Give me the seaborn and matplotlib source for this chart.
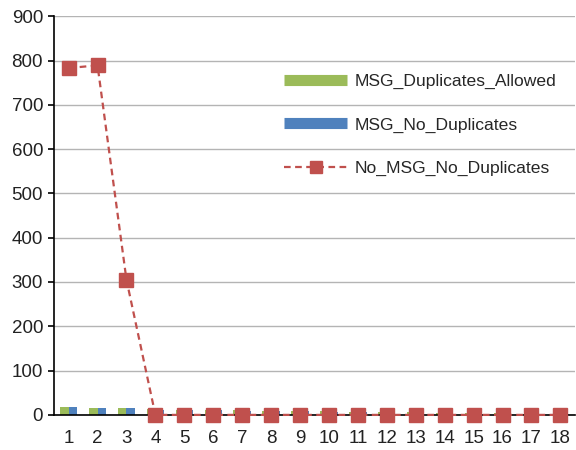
import matplotlib
matplotlib.use("Agg")
import matplotlib.pyplot as plt
from matplotlib.lines import Line2D
import seaborn as sns
import pandas as pd
import numpy as np

categories = [str(i) for i in range(1, 19)]
dup_allowed = [17, 16, 15, 13, 11, 11, 10, 9, 9, 8, 7, 7, 6, 5, 4, 4, 3, 3]
no_dup = [17, 16, 15, 12, 10, 10, 9, 8, 8, 7, 7, 6, 5, 5, 4, 3, 3, 3]
no_msg = [783, 789, 305, 0, 0, 0, 0, 0, 0, 0, 0, 0, 0, 0, 0, 0, 0, 0]
series_names = ["MSG_Duplicates_Allowed", "MSG_No_Duplicates", "No_MSG_No_Duplicates"]
y_ticks = [0, 100, 200, 300, 400, 500, 600, 700, 800, 900]

green = "#9BBB59"
blue = "#4F81BD"
red = "#C0504D"

sns.set_style("white")
plt.rcParams["font.family"] = ["Liberation Sans", "DejaVu Sans"]

bars = pd.DataFrame({
    "cat": categories * 2,
    "value": dup_allowed + no_dup,
    "series": [series_names[0]] * len(categories) + [series_names[1]] * len(categories),
})

fig = plt.figure(figsize=(5.76, 4.5), dpi=100)
ax = fig.add_axes([0.094, 0.078, 0.904, 0.886])

ax.set_ylim(0, 900)
ax.set_yticks(y_ticks)
ax.grid(axis="y", color="#b4b4b4", linewidth=1.0)
ax.set_axisbelow(True)

sns.barplot(data=bars, x="cat", y="value", hue="series", order=categories,
            palette=[green, blue], width=0.6, saturation=1, ax=ax,
            legend=False, linewidth=0)

line_df = pd.DataFrame({"cat": categories, "value": no_msg})
ax.plot(line_df.index, line_df["value"], color=red, linestyle=(0, (3, 2)),
        linewidth=1.6, marker="s", markersize=10, markerfacecolor=red,
        markeredgecolor=red, zorder=4, clip_on=False)

ax.set_xlim(-0.5, len(categories) - 0.5)
ax.set_xlabel("")
ax.set_ylabel("")
ax.tick_params(axis="x", which="major", length=0, labelsize=13.5, pad=11, labelcolor="#222222")
ax.set_xticks(np.arange(-0.5, len(categories), 1.0), minor=True)
ax.tick_params(axis="x", which="minor", length=4, width=1.2, direction="out", color="black")
ax.tick_params(axis="y", length=4, width=1.2, direction="out", labelsize=13.5, pad=4,
               colors="black", labelcolor="#222222", left=True)

for side in ["top", "right"]:
    ax.spines[side].set_visible(False)
for side in ["left", "bottom"]:
    ax.spines[side].set_color("black")
    ax.spines[side].set_linewidth(1.2)

handles = [
    Line2D([0], [0], color=green, linewidth=8, solid_capstyle="butt"),
    Line2D([0], [0], color=blue, linewidth=8, solid_capstyle="butt"),
    Line2D([0], [0], color=red, linestyle=(0, (3, 2)), linewidth=1.6,
           marker="s", markersize=8),
]
ax.legend(handles, series_names, loc="upper left", bbox_to_anchor=(0.412, 0.895),
          frameon=False, fontsize=12.6, handlelength=3.6, labelspacing=1.6,
          handletextpad=0.4)

fig.savefig("out.png", dpi=100)
